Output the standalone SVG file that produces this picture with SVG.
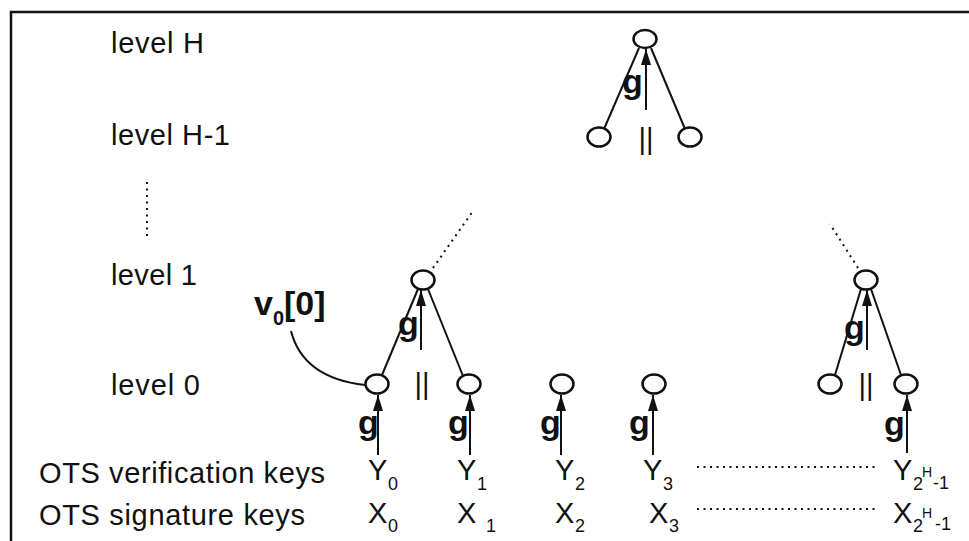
<svg xmlns="http://www.w3.org/2000/svg" width="969" height="541" viewBox="0 0 969 541">
  <style>
    .lbl { font-family: "Liberation Sans", Arial, sans-serif; font-size: 29px; fill: #111; }
    .sub { font-family: "Liberation Sans", Arial, sans-serif; font-size: 18px; fill: #111; }
    .sup { font-family: "Liberation Sans", Arial, sans-serif; font-size: 14px; fill: #111; }
    .g { font-family: "Liberation Sans", Arial, sans-serif; font-size: 34px; font-weight: bold; fill: #111; }
    .cat { font-family: "Liberation Sans", Arial, sans-serif; font-size: 29px; fill: #111; text-anchor: middle; }
    .node { fill: #fff; stroke: #111; stroke-width: 2.5; }
    .edge { stroke: #111; stroke-width: 2; fill: none; }
    .hash { stroke: #111; stroke-width: 2; fill: none; marker-end: url(#head); }
    .dots { stroke: #111; stroke-width: 2; fill: none; stroke-dasharray: 2 4.5; }
    .frame { stroke: #111; stroke-width: 2.5; fill: none; }
  </style>
  <defs>
    <marker id="head" markerUnits="userSpaceOnUse" markerWidth="16" markerHeight="10" refX="16" refY="5" orient="auto">
      <path d="M0,0 L16,5 L0,10 z" fill="#111"/>
    </marker>
  </defs>

  <rect width="969" height="541" fill="#fff"/>

  <!-- frame: top and left rules -->
  <path class="frame" d="M11,541 V12 H969"/>

  <!-- level labels -->
  <g id="levels">
    <text class="lbl" x="111" y="53" textLength="93">level H</text>
    <text class="lbl" x="111" y="145" textLength="119">level H-1</text>
    <line class="dots" x1="147" y1="182" x2="147" y2="238" stroke-dasharray="2 4"/>
    <text class="lbl" x="111" y="285" textLength="86">level 1</text>
    <text class="lbl" x="111" y="395" textLength="89">level 0</text>
    <text class="lbl" x="39" y="483" textLength="286">OTS verification keys</text>
    <text class="lbl" x="39" y="525" textLength="266">OTS signature keys</text>
  </g>

  <!-- connectors -->
  <g id="connectors">
    <!-- tree edges -->
    <line class="edge" x1="639" y1="48" x2="604" y2="129"/>
    <line class="edge" x1="651" y1="48" x2="685" y2="129"/>
    <line class="edge" x1="418" y1="289" x2="382" y2="375"/>
    <line class="edge" x1="428" y1="289" x2="463" y2="376"/>
    <line class="edge" x1="861" y1="289" x2="835" y2="375"/>
    <line class="edge" x1="871" y1="289" x2="901" y2="375"/>
    <!-- elided levels -->
    <line class="dots" x1="433" y1="268" x2="473" y2="211"/>
    <line class="dots" x1="858" y1="268" x2="830" y2="224"/>
    <!-- hash arrows -->
    <line class="hash" x1="646" y1="110" x2="646" y2="49"/>
    <line class="hash" x1="421" y1="350" x2="421" y2="290"/>
    <line class="hash" x1="867" y1="350" x2="867" y2="290"/>
    <line class="hash" x1="378" y1="455" x2="378" y2="395"/>
    <line class="hash" x1="470" y1="455" x2="470" y2="395"/>
    <line class="hash" x1="561" y1="455" x2="561" y2="395"/>
    <line class="hash" x1="653" y1="455" x2="653" y2="395"/>
    <line class="hash" x1="907" y1="453" x2="907" y2="395"/>
    <!-- authentication path pointer -->
    <path class="edge" d="M291,331 Q303,378 365,385"/>
    <!-- elided keys -->
    <line class="dots" x1="697" y1="467" x2="878" y2="467" stroke-dasharray="2 10.7"/>
    <line class="dots" x1="697" y1="509" x2="878" y2="509" stroke-dasharray="2 10.7"/>
  </g>

  <!-- hash / concatenation symbols -->
  <g id="ops">
    <text class="g" x="622" y="93">g</text>
    <text class="cat" x="646" y="149">||</text>
    <text class="g" x="398" y="335">g</text>
    <text class="cat" x="422" y="394">||</text>
    <text class="g" x="844" y="339">g</text>
    <text class="cat" x="866" y="395">||</text>
    <text class="g" x="358" y="434">g</text>
    <text class="g" x="448" y="434">g</text>
    <text class="g" x="540" y="434">g</text>
    <text class="g" x="629" y="434">g</text>
    <text class="g" x="884" y="435">g</text>
  </g>

  <!-- tree nodes -->
  <g id="root"><ellipse class="node" cx="645" cy="39" rx="11.5" ry="9"/></g>
  <g id="hm1-left"><ellipse class="node" cx="599" cy="137" rx="11.5" ry="9.5"/></g>
  <g id="hm1-right"><ellipse class="node" cx="690" cy="137" rx="11.5" ry="9.5"/></g>
  <g id="l1-left"><ellipse class="node" cx="423" cy="280" rx="11.5" ry="9.5"/></g>
  <g id="l1-right"><ellipse class="node" cx="866" cy="280" rx="11.5" ry="9.5"/></g>
  <g id="leaf0"><ellipse class="node" cx="377" cy="384" rx="11.5" ry="9.5"/></g>
  <g id="leaf1"><ellipse class="node" cx="469" cy="384" rx="11.5" ry="9.5"/></g>
  <g id="leaf2"><ellipse class="node" cx="562" cy="384" rx="11.5" ry="9.5"/></g>
  <g id="leaf3"><ellipse class="node" cx="654" cy="384" rx="11.5" ry="9.5"/></g>
  <g id="leafn2"><ellipse class="node" cx="830" cy="384" rx="11.5" ry="9.5"/></g>
  <g id="leafn1"><ellipse class="node" cx="906" cy="384" rx="11.5" ry="9.5"/></g>

  <!-- authentication node label -->
  <g id="auth-label">
    <text class="g" x="254" y="315" font-size="30">v<tspan font-size="20" dy="10">0</tspan><tspan dy="-10">[0]</tspan></text>
  </g>

  <!-- OTS verification keys -->
  <g id="ykeys">
    <text class="lbl" x="368" y="480">Y</text><text class="sub" x="388" y="490">0</text>
    <text class="lbl" x="457" y="480">Y</text><text class="sub" x="477" y="490">1</text>
    <text class="lbl" x="555" y="480">Y</text><text class="sub" x="575" y="490">2</text>
    <text class="lbl" x="643" y="480">Y</text><text class="sub" x="663" y="490">3</text>
    <text class="lbl" x="893" y="480">Y</text><text class="sub" x="913" y="490" font-size="16">2</text><text class="sup" x="922" y="477">H</text><text class="sub" x="933" y="489" font-size="16">-1</text>
  </g>

  <!-- OTS signature keys -->
  <g id="xkeys">
    <text class="lbl" x="368" y="523">X</text><text class="sub" x="388" y="532">0</text>
    <text class="lbl" x="457" y="523">X</text><text class="sub" x="486" y="532">1</text>
    <text class="lbl" x="555" y="523">X</text><text class="sub" x="575" y="532">2</text>
    <text class="lbl" x="649" y="523">X</text><text class="sub" x="669" y="532">3</text>
    <text class="lbl" x="893" y="523">X</text><text class="sub" x="913" y="532" font-size="16">2</text><text class="sup" x="922" y="518">H</text><text class="sub" x="935" y="530" font-size="16">-1</text>
  </g>
</svg>
